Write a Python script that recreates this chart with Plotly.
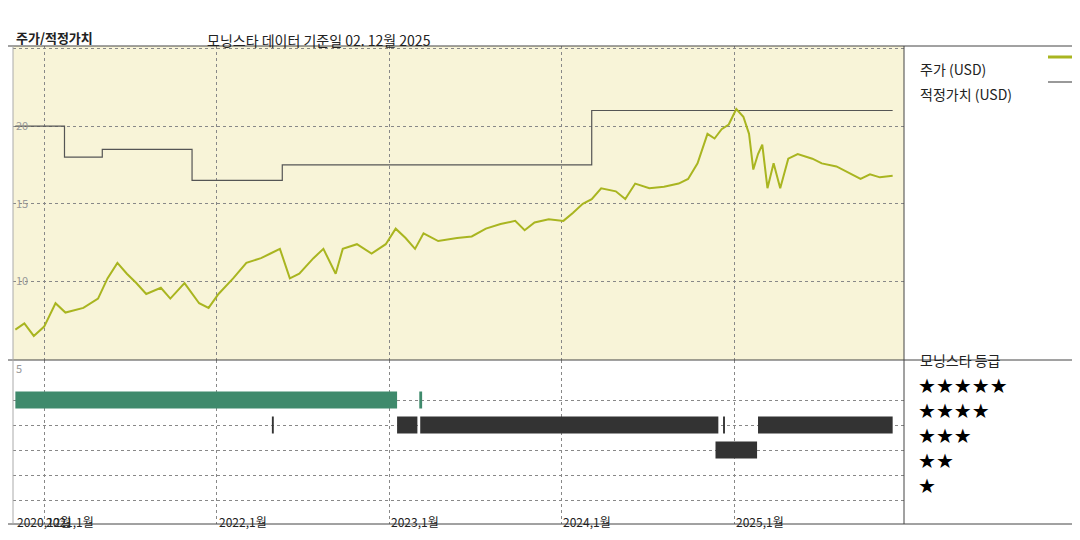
import plotly.graph_objects as go

price_dates = ["2020-11-01","2020-11-20","2020-12-10","2021-01-01","2021-01-25","2021-02-15","2021-03-25","2021-04-25","2021-05-15","2021-06-05","2021-06-25","2021-07-15","2021-08-05","2021-09-05","2021-09-25","2021-10-25","2021-11-25","2021-12-15","2022-01-05","2022-02-05","2022-03-05","2022-04-05","2022-04-25","2022-05-15","2022-06-05","2022-06-25","2022-07-25","2022-08-15","2022-09-10","2022-09-25","2022-10-25","2022-11-25","2022-12-25","2023-01-15","2023-02-05","2023-02-25","2023-03-15","2023-04-15","2023-05-25","2023-06-25","2023-07-25","2023-08-25","2023-09-25","2023-10-15","2023-11-05","2023-12-05","2024-01-05","2024-01-25","2024-02-15","2024-03-05","2024-03-25","2024-04-25","2024-05-15","2024-06-05","2024-07-05","2024-08-05","2024-09-05","2024-09-25","2024-10-15","2024-11-05","2024-11-20","2024-12-05","2024-12-20","2025-01-05","2025-01-20","2025-02-01","2025-02-10","2025-02-20","2025-03-01","2025-03-12","2025-03-25","2025-04-08","2025-04-25","2025-05-15","2025-06-15","2025-07-05","2025-08-05","2025-09-05","2025-09-25","2025-10-15","2025-11-05","2025-12-02"]
price_values = [6.9,7.3,6.5,7.1,8.6,8.0,8.3,8.9,10.2,11.2,10.5,9.9,9.2,9.6,8.9,9.9,8.6,8.3,9.2,10.2,11.2,11.5,11.8,12.1,10.2,10.5,11.5,12.1,10.5,12.1,12.4,11.8,12.4,13.4,12.8,12.1,13.1,12.6,12.8,12.9,13.4,13.7,13.9,13.3,13.8,14.0,13.9,14.4,15.0,15.3,16.0,15.8,15.3,16.3,16.0,16.1,16.3,16.6,17.6,19.5,19.2,19.8,20.1,21.1,20.6,19.5,17.2,18.2,18.8,16.0,17.6,16.0,17.9,18.2,17.9,17.6,17.4,16.9,16.6,16.9,16.7,16.8]

fair_dates = ["2020-11-01","2021-02-13","2021-02-13","2021-05-04","2021-05-04","2021-11-10","2021-11-10","2022-05-20","2022-05-20","2024-03-05","2024-03-05","2025-12-02"]
fair_values = [20.0,20.0,18.0,18.0,18.5,18.5,16.5,16.5,17.5,17.5,21.0,21.0]

rating_start = ["2020-11-01","2023-03-06","2022-04-28","2023-01-18","2023-03-08","2024-12-08","2024-11-22","2025-02-20"]
rating_end   = ["2023-01-18","2023-03-12","2022-05-02","2023-03-02","2024-11-28","2024-12-12","2025-02-18","2025-12-02"]
rating_stars = [5,5,4,4,4,4,3,4]

star_labels = ["★★★★★","★★★★","★★★","★★","★"]
x_tick_dates = ["2020-11-01","2021-01-01","2022-01-01","2023-01-01","2024-01-01","2025-01-01"]
x_tick_text = ["2020,12월","2021,1월","2022,1월","2023,1월","2024,1월","2025,1월"]
y_ticks = [10,15,20,25]

F = "Noto Sans CJK KR"
W, H = 1080, 540
def px(x): return x / W
def py(y): return 1 - y / H

fig = go.Figure()
fig.add_trace(go.Scatter(x=fair_dates, y=fair_values, mode="lines", line=dict(color="#555555", width=1.2), xaxis="x", yaxis="y"))
fig.add_trace(go.Scatter(x=price_dates, y=price_values, mode="lines", line=dict(color="#a9b520", width=2), xaxis="x", yaxis="y"))
for s, e, r in zip(rating_start, rating_end, rating_stars):
    fig.add_trace(go.Scatter(x=[s, e], y=[r, r], mode="lines", xaxis="x2", yaxis="y2",
                             line=dict(color="#3f8a6c" if r == 5 else "#333333", width=17)))

xr = ["2020-10-27", "2025-12-26"]
grid = dict(showgrid=True, gridcolor="#888888", griddash="dot", gridwidth=1)
fig.update_layout(
    width=W, height=H, margin=dict(l=0, r=0, t=0, b=0), showlegend=False,
    paper_bgcolor="white", plot_bgcolor="white",
    font=dict(family=F, size=12, color="#222"),
    xaxis=dict(domain=[px(5), px(896)], range=xr, type="date", tickvals=x_tick_dates[1:], showticklabels=False, anchor="y", **grid, zeroline=False),
    yaxis=dict(domain=[py(352), py(38)], range=[4.95, 25.15], tickvals=y_ticks, ticklabelposition="inside",
               tickfont=dict(size=11, color="#999"), **grid, zeroline=False),
    xaxis2=dict(domain=[px(5), px(896)], range=xr, type="date", tickvals=x_tick_dates[1:], showticklabels=False, anchor="y2", **grid, zeroline=False),
    yaxis2=dict(domain=[py(516), py(352)], range=[0.04, 6.6], tickvals=[1,2,3,4,5], showticklabels=False, **grid, zeroline=False),
)
# backgrounds / borders
fig.add_shape(type="rect", xref="paper", yref="paper", x0=px(5), x1=px(896), y0=py(352), y1=py(38),
              fillcolor="#f8f4d8", line=dict(width=0), layer="below")
for (x0, y0, x1, y1) in [(0,38,1080,38),(0,352,1080,352),(0,516,1080,516),(896,38,896,516),(5,38,5,516)]:
    fig.add_shape(type="line", xref="paper", yref="paper", x0=px(x0), x1=px(x1), y0=py(y0), y1=py(y1),
                  line=dict(color="#444" if x0 != 5 else "#aaa", width=1))
# titles
fig.add_annotation(text="<b>주가/적정가치</b>", x=px(6), y=py(18), xref="paper", yref="paper", xanchor="left", showarrow=False, font=dict(size=13))
fig.add_annotation(text="모닝스타 데이터 기준일 02. 12월 2025", x=px(197), y=py(20), xref="paper", yref="paper", xanchor="left", showarrow=False, font=dict(size=14))
fig.add_annotation(text="5", x=px(6), y=py(360), xref="paper", yref="paper", xanchor="left", showarrow=False, font=dict(size=11, color="#999"))
# legend
fig.add_annotation(text="주가 (USD)", x=px(910), y=py(49), xref="paper", yref="paper", xanchor="left", showarrow=False, font=dict(size=14))
fig.add_annotation(text="적정가치 (USD)", x=px(910), y=py(74), xref="paper", yref="paper", xanchor="left", showarrow=False, font=dict(size=14))
fig.add_shape(type="line", xref="paper", yref="paper", x0=px(1040), x1=px(1072), y0=py(49), y1=py(49), line=dict(color="#a9b520", width=3))
fig.add_shape(type="line", xref="paper", yref="paper", x0=px(1040), x1=px(1072), y0=py(74), y1=py(74), line=dict(color="#555", width=1.2))
fig.add_annotation(text="모닝스타 등급", x=px(910), y=py(364), xref="paper", yref="paper", xanchor="left", showarrow=False, font=dict(size=14))
for i, s in enumerate(star_labels):
    fig.add_annotation(text=s, x=px(908), y=py(392 + 25 * i), xref="paper", yref="paper", xanchor="left", showarrow=False, font=dict(size=20, color="black", family="DejaVu Sans"))
for d, t in zip(x_tick_dates, x_tick_text):
    fig.add_annotation(text=t, x=d, y=py(524), xref="x2", yref="paper", xanchor="left", showarrow=False, font=dict(size=12))
fig.write_html("out.html")
